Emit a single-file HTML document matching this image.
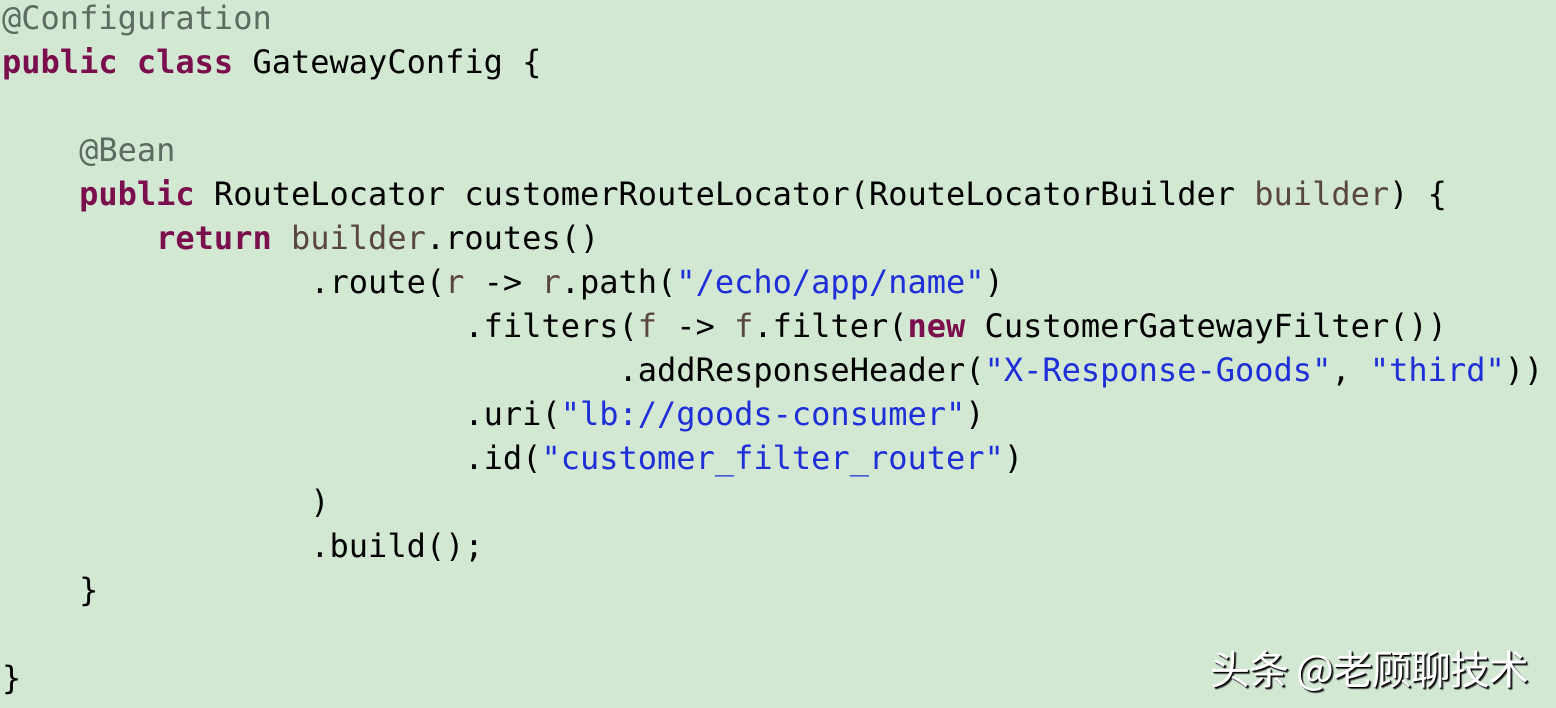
<!DOCTYPE html>
<html><head><meta charset="utf-8"><style>
html,body{margin:0;padding:0;width:1556px;height:708px;overflow:hidden;background:#d2e8d3}
pre{position:absolute;left:2px;top:-4px;margin:0;font-family:"DejaVu Sans Mono","Liberation Mono",monospace;font-size:32px;line-height:44px;color:#000}
.k{color:#7b0f4e;font-weight:bold}
.a{color:#5d6b60}
.s{color:#1e2fd8}
.p{color:#5a4640}
.w{position:absolute;left:1210px;top:638px;font-family:"Noto Sans CJK SC","WenQuanYi Zen Hei",sans-serif;font-size:40px;color:#fff;text-shadow:1px 1px 0 #000,2px 2px 1px #333;letter-spacing:-1px}
</style></head><body>
<pre><span class="a">@Configuration</span>
<span class="k">public class</span> GatewayConfig {

    <span class="a">@Bean</span>
    <span class="k">public</span> RouteLocator customerRouteLocator(RouteLocatorBuilder <span class="p">builder</span>) {
        <span class="k">return</span> <span class="p">builder</span>.routes()
                .route(<span class="p">r</span> -&gt; <span class="p">r</span>.path(<span class="s">"/echo/app/name"</span>)
                        .filters(<span class="p">f</span> -&gt; <span class="p">f</span>.filter(<span class="k">new</span> CustomerGatewayFilter())
                                .addResponseHeader(<span class="s">"X-Response-Goods"</span>, <span class="s">"third"</span>))
                        .uri(<span class="s">"lb://goods-consumer"</span>)
                        .id(<span class="s">"customer_filter_router"</span>)
                )
                .build();
    }

}</pre>
<div class="w">头条 @老顾聊技术</div>
</body></html>
